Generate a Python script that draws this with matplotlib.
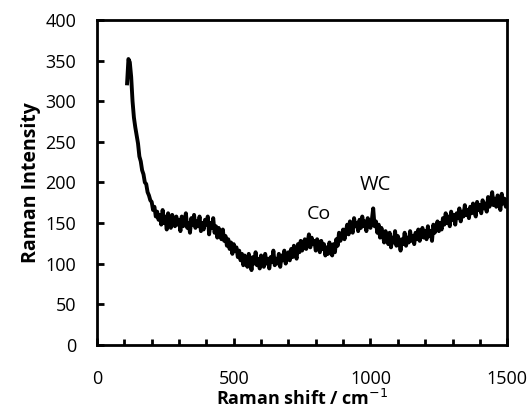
import matplotlib.pyplot as plt
from matplotlib.ticker import MultipleLocator

shift = list(range(110, 1501, 5))
intensity = [
    322, 352, 348, 330, 300, 280, 268, 258, 248, 232,
    226, 215, 210, 200, 198, 188, 184, 178, 176, 166,
    170, 158, 164, 154, 160, 148, 166, 150, 158, 142,
    162, 150, 144, 160, 152, 146, 158, 148, 154, 140,
    158, 146, 152, 162, 144, 150, 138, 156, 148, 160,
    144, 152, 146, 158, 140, 150, 142, 154, 148, 158,
    136, 150, 144, 156, 138, 146, 132, 144, 136, 130,
    142, 128, 134, 122, 130, 118, 126, 112, 124, 116,
    120, 108, 116, 104, 112, 98, 110, 102, 96, 112,
    104, 92, 108, 100, 114, 98, 106, 94, 110, 102,
    96, 112, 100, 106, 94, 108, 102, 116, 98, 106,
    100, 112, 96, 110, 104, 116, 100, 108, 114, 104,
    118, 108, 122, 112, 106, 124, 114, 128, 116, 122,
    130, 118, 126, 136, 120, 132, 124, 128, 116, 130,
    122, 114, 128, 118, 124, 110, 120, 112, 126, 116,
    110, 124, 114, 130, 122, 138, 128, 134, 142, 130,
    140, 148, 136, 152, 144, 138, 156, 146, 150, 140,
    154, 144, 158, 146, 152, 140, 156, 148, 144, 154,
    168, 146, 152, 138, 148, 132, 144, 136, 126, 140,
    130, 124, 138, 120, 132, 126, 140, 122, 134, 128,
    116, 130, 124, 138, 122, 132, 126, 140, 128, 134,
    124, 138, 130, 142, 128, 136, 144, 132, 140, 130,
    146, 134, 140, 128, 148, 138, 144, 152, 140, 150,
    142, 156, 148, 162, 150, 158, 146, 164, 154, 160,
    148, 162, 156, 168, 152, 164, 158, 172, 160, 166,
    156, 170, 162, 174, 164, 158, 176, 166, 172, 162,
    178, 168, 174, 164, 182, 170, 176, 188, 172, 180,
    170, 184, 176, 166, 186, 174, 180, 170, 178,
]

plt.rcParams['font.family'] = ['Open Sans', 'DejaVu Sans']

fig = plt.figure(figsize=(5.3, 4.09), dpi=100)
ax = fig.add_axes([0.183, 0.157, 0.774, 0.794])
ax.plot(shift, intensity, color='black', lw=2.8)

ax.set_xlim(0, 1500)
ax.set_ylim(0, 400)
ax.xaxis.set_major_locator(MultipleLocator(500))
ax.xaxis.set_minor_locator(MultipleLocator(100))
ax.yaxis.set_major_locator(MultipleLocator(50))
ax.tick_params(which='both', direction='in', width=2, labelsize=13)
ax.tick_params(axis='x', which='major', length=5, pad=18)
ax.tick_params(axis='x', which='minor', length=4)
ax.tick_params(axis='y', length=5, pad=15)
for s in ax.spines.values():
    s.set_linewidth(2)

ax.set_xlabel('Raman shift / cm$^{-1}$', fontsize=13, fontweight='bold', va='top')
ax.xaxis.set_label_coords(0.5, -0.135)
ax.set_ylabel('Raman Intensity', fontsize=14, fontweight='bold', labelpad=3)

ax.text(812, 161, 'Co', fontsize=14, ha='center', va='center')
ax.text(1017, 197, 'WC', fontsize=14.5, ha='center', va='center')

plt.savefig('out.png', dpi=100)
